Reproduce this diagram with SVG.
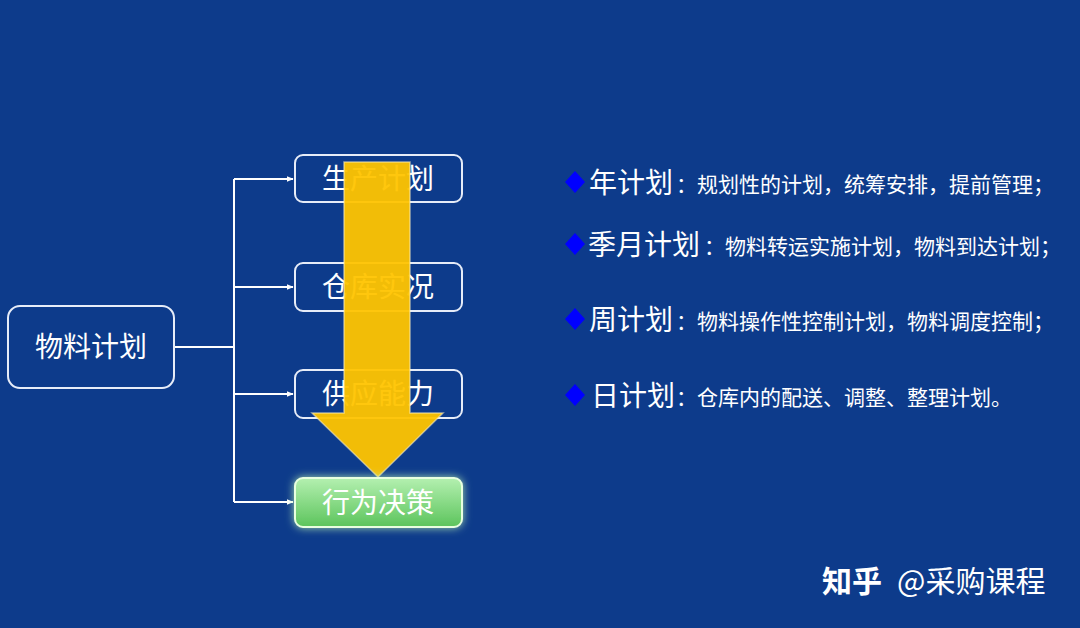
<svg xmlns="http://www.w3.org/2000/svg" width="1080" height="628" viewBox="0 0 1080 628">
<defs>
<marker id="ah" viewBox="0 0 10 10" refX="9" refY="5" markerWidth="7" markerHeight="7" orient="auto" markerUnits="userSpaceOnUse">
<path d="M0,1 L10,5 L0,9 Z" fill="#ffffff"/>
</marker>
<linearGradient id="gg" x1="0" y1="0" x2="0" y2="1">
<stop offset="0" stop-color="#b4f0b0"/>
<stop offset="1" stop-color="#5cc45c"/>
</linearGradient>
<filter id="glow" x="-20%" y="-40%" width="140%" height="180%">
<feGaussianBlur in="SourceAlpha" stdDeviation="4" result="blur"/>
<feFlood flood-color="#c8ffb4" flood-opacity="0.8" result="fl"/>
<feComposite operator="in" in="fl" in2="blur" result="gl"/>
<feMerge><feMergeNode in="gl"/><feMergeNode in="SourceGraphic"/></feMerge>
</filter>
</defs>
<style>
.bx{fill:none;stroke:#e6ecf8;stroke-width:2}
.nt{font-family:"Liberation Sans","Noto Sans CJK SC",sans-serif;font-size:28px;fill:#ffffff;text-anchor:middle}
.big{font-family:"Liberation Sans","Noto Sans CJK SC",sans-serif;font-size:28px;fill:#ffffff}
.sm{font-family:"Liberation Sans","Noto Sans CJK SC",sans-serif;font-size:21px;fill:#ffffff}
.ln{fill:none;stroke:#ffffff;stroke-width:2}
.dm{fill:#0000ff}
</style>
<rect width="1080" height="628" fill="#0d3b8b"/>

<g id="connectors">
<path class="ln" d="M174,347 H234"/>
<path class="ln" d="M234,179 V502"/>
<path class="ln" d="M234,179 H293" marker-end="url(#ah)"/>
<path class="ln" d="M234,287 H293" marker-end="url(#ah)"/>
<path class="ln" d="M234,394 H293" marker-end="url(#ah)"/>
<path class="ln" d="M234,502 H293" marker-end="url(#ah)"/>
</g>

<g id="node-main">
<rect class="bx" x="8" y="306" width="166" height="82" rx="12"/>
<text class="nt" x="91" y="357">物料计划</text>
</g>
<g id="node-prod">
<rect class="bx" x="295" y="155" width="167" height="47" rx="8"/>
<text class="nt" x="378" y="189">生产计划</text>
</g>
<g id="node-wh">
<rect class="bx" x="295" y="263" width="167" height="48" rx="8"/>
<text class="nt" x="378" y="297">仓库实况</text>
</g>
<g id="node-supply">
<rect class="bx" x="295" y="370" width="167" height="48" rx="8"/>
<text class="nt" x="378" y="404">供应能力</text>
</g>

<g id="big-arrow">
<path d="M344,162 H410 V413 H443 L378,477 L312,413 H344 Z" fill="#ffc400" fill-opacity="0.95" stroke="#f8ecc0" stroke-width="1.5" stroke-opacity="0.6"/>
</g>

<g id="node-decision">
<rect x="295" y="478" width="167" height="49" rx="8" fill="url(#gg)" stroke="#e8ffe0" stroke-width="2" filter="url(#glow)"/>
<text class="nt" x="378" y="513" fill="#f0f8f0">行为决策</text>
</g>

<g id="legend">
<path class="dm" d="M575,171 L585,182 L575,193 L565,182 Z"/>
<text class="big" x="589" y="193">年计划</text>
<text class="sm" x="676" y="192">：规划性的计划，统筹安排，提前管理；</text>

<path class="dm" d="M575,233 L585,244 L575,255 L565,244 Z"/>
<text class="big" x="588" y="255">季月计划</text>
<text class="sm" x="704" y="254">：物料转运实施计划，物料到达计划；</text>

<path class="dm" d="M575,308 L585,319 L575,330 L565,319 Z"/>
<text class="big" x="589" y="330">周计划</text>
<text class="sm" x="676" y="329">：物料操作性控制计划，物料调度控制；</text>

<path class="dm" d="M575,384 L585,395 L575,406 L565,395 Z"/>
<text class="big" x="591" y="406">日计划</text>
<text class="sm" x="676" y="405">：仓库内的配送、调整、整理计划。</text>
</g>

<text x="822" y="592" font-family="'Noto Sans CJK SC',sans-serif" font-size="30" font-weight="bold" fill="#ffffff">知乎</text>
<text x="897" y="592" font-family="'Noto Sans CJK SC',sans-serif" font-size="30" fill="#ffffff">@采购课程</text>
</svg>
